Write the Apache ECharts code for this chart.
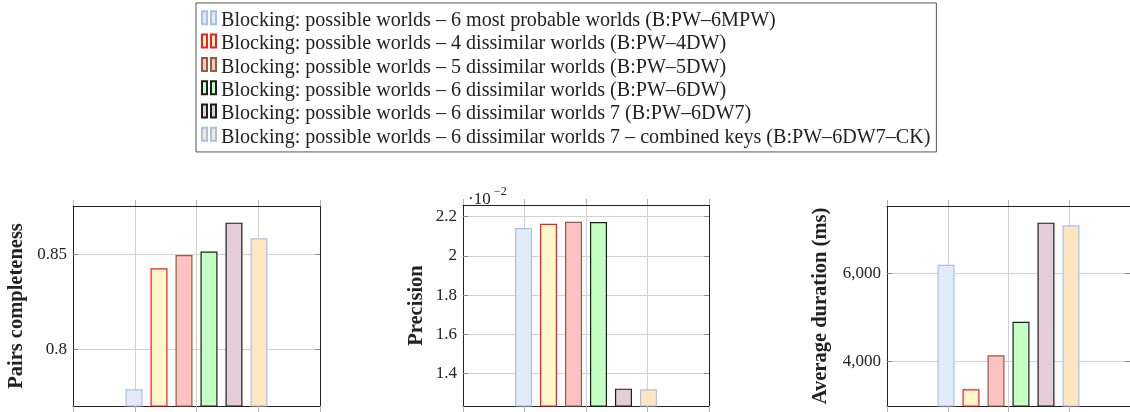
<!DOCTYPE html>
<html>
<head>
<meta charset="utf-8">
<script src="https://cdn.jsdelivr.net/npm/echarts@6/dist/echarts.min.js"></script>
<style>
  html, body { margin: 0; padding: 0; background: #fff; }
  #chart { width: 1130px; height: 412px; }
</style>
</head>
<body>
<div id="chart"></div>
<script>
// Blocking strategies compared (one bar per strategy in each panel)
const strategies = [
  'Blocking: possible worlds – 6 most probable worlds (B:PW–6MPW)',
  'Blocking: possible worlds – 4 dissimilar worlds (B:PW–4DW)',
  'Blocking: possible worlds – 5 dissimilar worlds (B:PW–5DW)',
  'Blocking: possible worlds – 6 dissimilar worlds (B:PW–6DW)',
  'Blocking: possible worlds – 6 dissimilar worlds 7 (B:PW–6DW7)',
  'Blocking: possible worlds – 6 dissimilar worlds 7 – combined keys (B:PW–6DW7–CK)'
];

// Measured values per strategy
const pairsCompleteness = [0.7789, 0.8426, 0.8496, 0.8514, 0.8666, 0.8584];
const precisionE2 = [2.142, 2.164, 2.174, 2.173, 1.323, 1.320];   // × 10^-2
const avgDurationMs = [6195, 3364, 4136, 4900, 7150, 7091];

// Y tick values
const pcTicks = [0.8, 0.85];
const precTicks = [1.4, 1.6, 1.8, 2.0, 2.2];
const durTicks = [4000, 6000];

// Bar appearance per strategy
const fills   = ['#e3eaf8', '#fff8cc', '#ffc2c2', '#c4ffc4', '#e4ccd9', '#ffe6c0'];
const borders = ['#a9c0ee', '#ff1a1a', '#8f6040', '#1e1e1e', '#1e1e1e', '#a9c0ee'];

const SERIF = '"Liberation Serif", "DejaVu Serif", serif';
const GRID_LINE = '#d2d2d2';
const FRAME = '#222';

// pgfplots-style enlarged limits: 10% of the data range on each side
function limits(vals) {
  const lo = Math.min(...vals), hi = Math.max(...vals);
  const pad = (hi - lo) * 0.1;
  return { min: lo - pad, max: hi + pad };
}

const fmtThousands = v => Math.round(v).toLocaleString('en-US');
const fmtPlain = v => String(+v.toFixed(4));

const panels = [
  { left: 73,  top: 206, width: 247, height: 200, values: pairsCompleteness, ticks: pcTicks,
    fmt: fmtPlain, name: 'Pairs completeness', nameGap: 46 },
  { left: 463, top: 205, width: 246, height: 201, values: precisionE2, ticks: precTicks,
    fmt: fmtPlain, name: 'Precision', nameGap: 36 },
  { left: 887, top: 206, width: 246, height: 200, values: avgDurationMs, ticks: durTicks,
    fmt: fmtThousands, name: 'Average duration (ms)', nameGap: 56 }
];

const grid = [], xAxis = [], yAxis = [], series = [];

const frameLine = { show: true, onZero: false, lineStyle: { color: FRAME, width: 1 } };

panels.forEach((p, i) => {
  grid.push({ left: p.left, top: p.top, width: p.width, height: p.height });

  // band axis that positions the grouped bars
  xAxis.push({ gridIndex: i, type: 'category', data: ['all'], show: false,
               axisLine: { onZero: false } });
  // numeric axis carrying the vertical grid and outward ticks (bottom)
  xAxis.push({ gridIndex: i, type: 'value', position: 'bottom', min: -1, max: 1, interval: 0.5,
               axisLine: frameLine,
               axisTick: { show: true, inside: false, length: 6, lineStyle: { color: '#b4b4b4' } },
               axisLabel: { show: false },
               splitLine: { show: true, lineStyle: { color: GRID_LINE } } });
  // same ticks on the top edge
  xAxis.push({ gridIndex: i, type: 'value', position: 'top', min: -1, max: 1, interval: 0.5,
               axisLine: frameLine,
               axisTick: { show: true, inside: false, length: 6, lineStyle: { color: '#b4b4b4' } },
               axisLabel: { show: false }, splitLine: { show: false } });

  const lim = limits(p.values);
  yAxis.push({ gridIndex: i, type: 'value', position: 'left', min: lim.min, max: lim.max,
               axisLine: frameLine,
               axisTick: { show: true, inside: true, length: 5, customValues: p.ticks,
                           lineStyle: { color: '#8a8a8a' } },
               axisLabel: { customValues: p.ticks, formatter: p.fmt, margin: 6,
                            fontFamily: SERIF, fontSize: 17, color: '#222' },
               splitLine: { show: true, lineStyle: { color: GRID_LINE } },
               name: p.name, nameLocation: 'middle', nameRotate: 90, nameGap: p.nameGap,
               nameTextStyle: { fontFamily: SERIF, fontWeight: 'bold', fontSize: 20.5, color: '#222' } });
  yAxis.push({ gridIndex: i, type: 'value', position: 'right', min: lim.min, max: lim.max,
               axisLine: frameLine,
               axisTick: { show: true, inside: true, length: 5, customValues: p.ticks,
                           lineStyle: { color: '#8a8a8a' } },
               axisLabel: { show: false }, splitLine: { show: false } });

  strategies.forEach((name, k) => {
    series.push({
      type: 'bar', name,
      xAxisIndex: i * 3, yAxisIndex: i * 2,
      data: [p.values[k]],
      barWidth: 17, barGap: '47%',
      itemStyle: { color: fills[k], borderColor: borders[k], borderWidth: 1.2 },
      emphasis: { disabled: true }
    });
  });
});

const chart = echarts.init(document.getElementById('chart'), null, { renderer: 'canvas' });
chart.setOption({
  animation: false,
  backgroundColor: '#fff',
  grid, xAxis, yAxis, series,
  legend: {
    data: strategies,
    orient: 'vertical', left: 196, top: 3,
    padding: [6.15, 6, 3, 5],
    borderColor: '#555', borderWidth: 1,
    itemGap: 0, itemWidth: 14, itemHeight: 19,
    // two small bars, drawn in the upper part of a taller icon box
    icon: 'path://M0,0H5V13H0Z M9,0H14V13H9Z M0,19L0,19',
    selectedMode: false,
    textStyle: { fontFamily: SERIF, fontSize: 20.1, color: '#222', lineHeight: 23.3 }
  },
  graphic: [
    { type: 'text', left: 468, top: 191, style: { text: '·10', font: '17px ' + SERIF, fill: '#222' } },
    { type: 'text', left: 494, top: 186, style: { text: '−2', font: '12px ' + SERIF, fill: '#222' } }
  ]
});
</script>
</body>
</html>
